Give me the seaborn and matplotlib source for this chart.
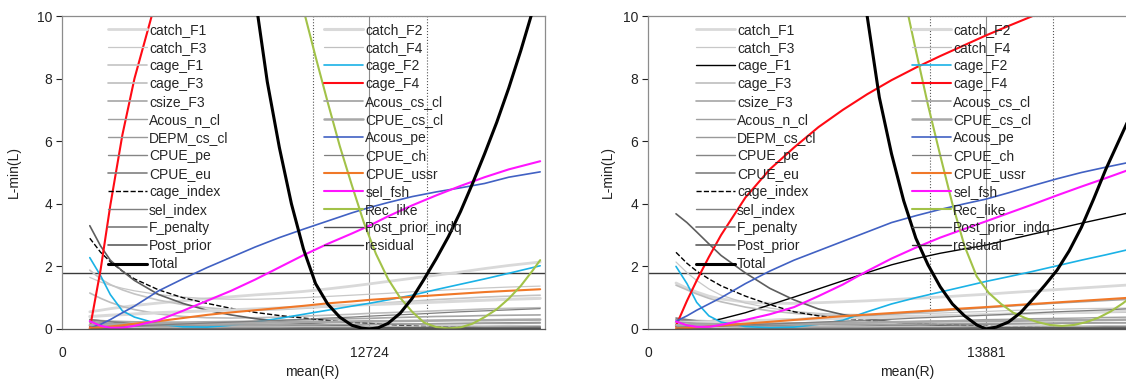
import numpy as np
import pandas as pd
import matplotlib
matplotlib.use("Agg")
import matplotlib.pyplot as plt
import seaborn as sns

# likelihood profiles over mean recruitment, two model runs
mle_L = 12724
mle_R = 13881
ci_L = [10400, 15130]
ci_R = [11580, 16630]
cutoff = 1.8

xL = [1150, 1600, 2000, 2500, 3000, 4000, 5000, 6000, 7000, 8000, 9000,
      10000, 11000, 12000, 12724, 13500, 14500, 15500, 16500, 17500, 18500, 19800]
xR = [1150, 1600, 2000, 2500, 3000, 4000, 5000, 6000, 7000, 8000, 9000,
      10000, 11000, 12000, 13000, 13881, 14800, 15800, 16800, 17800, 18800, 19800]

# finer runs for the steep components
xTot_L = [7500, 8000, 8500, 9000, 9500, 10000, 10500, 11000, 11500, 12000, 12400, 12724, 13100,
          13500, 14000, 14500, 15000, 15500, 16000, 16500, 17000, 17500, 18000, 18500, 19000, 19500, 19800]
xTot_R = [8500, 9000, 9500, 10000, 10500, 11000, 11500, 12000, 12500, 13000, 13500, 13881,
          14300, 14800, 15300, 15800, 16300, 16800, 17300, 17800, 18300, 18800, 19300, 19800]
xRec_L = [9500, 10000, 10500, 11000, 11500, 12000, 12500, 13000, 13500, 14000, 14500,
          15000, 15500, 16000, 16500, 17000, 17500, 18000, 18500, 19000, 19500, 19800]
xRec_R = [10000, 10500, 11000, 11500, 12000, 12500, 13000, 13500, 14000, 14500,
          15000, 15500, 16000, 16500, 17000, 17500, 18000, 18500, 19000, 19500, 19800]

# ---- left run
catch_F1_L = [0.55, 0.6, 0.65, 0.7, 0.75, 0.83, 0.9, 0.97, 1.03, 1.09, 1.14, 1.2, 1.28, 1.37, 1.44, 1.52, 1.62, 1.72, 1.82, 1.93, 2.03, 2.14]
catch_F3_L = [1.65, 1.5, 1.4, 1.3, 1.22, 1.1, 1.02, 0.97, 0.95, 0.95, 0.97, 1.0, 1.04, 1.08, 1.11, 1.14, 1.19, 1.23, 1.27, 1.31, 1.34, 1.37]
cage_F1_L = [1.88, 1.6, 1.42, 1.25, 1.12, 0.92, 0.78, 0.68, 0.62, 0.6, 0.62, 0.66, 0.71, 0.76, 0.8, 0.84, 0.89, 0.94, 0.98, 1.02, 1.05, 1.08]
cage_F3_L = [1.15, 0.98, 0.85, 0.72, 0.62, 0.48, 0.4, 0.36, 0.35, 0.36, 0.38, 0.41, 0.44, 0.47, 0.5, 0.52, 0.55, 0.58, 0.61, 0.64, 0.66, 0.68]
csize_F3_L = [0.3, 0.27, 0.25, 0.24, 0.23, 0.22, 0.22, 0.23, 0.24, 0.25, 0.27, 0.29, 0.31, 0.33, 0.34, 0.36, 0.38, 0.4, 0.41, 0.43, 0.44, 0.45]
acous_n_L = [0.1, 0.09, 0.08, 0.08, 0.08, 0.09, 0.1, 0.11, 0.13, 0.14, 0.16, 0.18, 0.2, 0.22, 0.23, 0.24, 0.26, 0.27, 0.28, 0.29, 0.3, 0.3]
depm_L = [0.25, 0.21, 0.18, 0.15, 0.13, 0.1, 0.08, 0.07, 0.06, 0.05, 0.05, 0.04, 0.04, 0.03, 0.03, 0.03, 0.03, 0.02, 0.02, 0.02, 0.02, 0.02]
cpue_pe_L = [0.02, 0.02, 0.03, 0.03, 0.04, 0.05, 0.06, 0.07, 0.08, 0.09, 0.1, 0.11, 0.12, 0.13, 0.14, 0.15, 0.16, 0.17, 0.18, 0.19, 0.2, 0.21]
cpue_eu_L = [0.3, 0.26, 0.23, 0.2, 0.17, 0.13, 0.1, 0.08, 0.07, 0.06, 0.05, 0.05, 0.05, 0.05, 0.05, 0.05, 0.05, 0.05, 0.06, 0.06, 0.06, 0.07]
cage_index_L = [2.9, 2.45, 2.15, 1.85, 1.6, 1.25, 1.0, 0.82, 0.66, 0.53, 0.43, 0.35, 0.27, 0.21, 0.18, 0.14, 0.1, 0.07, 0.05, 0.04, 0.03, 0.02]
sel_index_L = [0.08, 0.08, 0.07, 0.07, 0.07, 0.06, 0.06, 0.06, 0.05, 0.05, 0.05, 0.05, 0.05, 0.05, 0.05, 0.05, 0.05, 0.05, 0.05, 0.05, 0.05, 0.05]
f_pen_L = [0.0, 0.0, 0.0, 0.0, 0.0, 0.0, 0.0, 0.0, 0.0, 0.0, 0.0, 0.0, 0.0, 0.0, 0.0, 0.0, 0.0, 0.0, 0.0, 0.0, 0.0, 0.0]
post_prior_L = [3.3, 2.65, 2.2, 1.85, 1.55, 1.1, 0.82, 0.6, 0.45, 0.33, 0.25, 0.18, 0.13, 0.09, 0.07, 0.05, 0.04, 0.03, 0.03, 0.02, 0.02, 0.02]
total_L = [13.8, 10.6, 7.9, 5.8, 4.0, 2.55, 1.45, 0.8, 0.38, 0.12, 0.03, 0.0, 0.04,
           0.18, 0.5, 0.98, 1.6, 2.25, 2.95, 3.75, 4.65, 5.6, 6.6, 7.7, 8.9, 10.2, 11.0]
catch_F2_L = [0.4, 0.42, 0.44, 0.46, 0.48, 0.52, 0.55, 0.58, 0.61, 0.64, 0.67, 0.7, 0.73, 0.76, 0.78, 0.8, 0.83, 0.86, 0.89, 0.92, 0.95, 0.98]
catch_F4_L = [0.05, 0.05, 0.05, 0.05, 0.05, 0.06, 0.06, 0.06, 0.07, 0.07, 0.07, 0.08, 0.08, 0.08, 0.09, 0.09, 0.09, 0.1, 0.1, 0.1, 0.11, 0.11]
cage_F2_L = [2.28, 1.7, 1.1, 0.58, 0.38, 0.16, 0.07, 0.06, 0.12, 0.22, 0.34, 0.47, 0.6, 0.73, 0.82, 0.93, 1.08, 1.26, 1.43, 1.6, 1.78, 2.02]
cage_F4_L = [0.0, 1.9, 3.95, 6.2, 8.0, 10.8, 13.2, 15.3, 17.2, 19.0, 20.6, 22.0, 23.4, 24.7, 25.6, 26.5, 27.6, 28.7, 29.7, 30.7, 31.6, 32.8]
acous_cs_L = [0.2, 0.18, 0.17, 0.16, 0.15, 0.14, 0.13, 0.13, 0.13, 0.13, 0.13, 0.14, 0.14, 0.15, 0.15, 0.16, 0.16, 0.17, 0.17, 0.18, 0.18, 0.19]
cpue_cs_L = [0.12, 0.12, 0.13, 0.14, 0.15, 0.16, 0.17, 0.18, 0.19, 0.2, 0.21, 0.22, 0.23, 0.24, 0.25, 0.25, 0.26, 0.27, 0.28, 0.28, 0.29, 0.3]
acous_pe_L = [0.03, 0.15, 0.3, 0.52, 0.73, 1.22, 1.6, 1.96, 2.29, 2.62, 2.92, 3.19, 3.45, 3.71, 3.88, 4.04, 4.23, 4.38, 4.51, 4.65, 4.85, 5.02]
cpue_ch_L = [0.05, 0.06, 0.07, 0.08, 0.1, 0.13, 0.16, 0.19, 0.22, 0.25, 0.28, 0.31, 0.35, 0.38, 0.41, 0.44, 0.47, 0.51, 0.55, 0.58, 0.61, 0.65]
cpue_ussr_L = [0.03, 0.05, 0.08, 0.12, 0.17, 0.25, 0.35, 0.45, 0.53, 0.6, 0.67, 0.74, 0.82, 0.88, 0.93, 0.97, 1.03, 1.08, 1.13, 1.18, 1.22, 1.27]
sel_fsh_L = [0.25, 0.1, 0.04, 0.04, 0.1, 0.28, 0.58, 0.9, 1.22, 1.58, 1.97, 2.36, 2.72, 3.05, 3.3, 3.6, 3.95, 4.27, 4.57, 4.85, 5.1, 5.36]
rec_like_L = [12.0, 10.2, 8.7, 7.25, 5.85, 4.6, 3.4, 2.4, 1.6, 1.0, 0.55,
              0.2, 0.06, 0.02, 0.05, 0.17, 0.38, 0.63, 0.97, 1.38, 1.88, 2.2]
post_indq_L = [0.01, 0.01, 0.01, 0.01, 0.01, 0.01, 0.01, 0.01, 0.01, 0.01, 0.01, 0.01, 0.01, 0.01, 0.01, 0.01, 0.01, 0.01, 0.01, 0.01, 0.01, 0.01]
residual_L = [0.0, 0.0, 0.0, 0.0, 0.0, 0.0, 0.0, 0.0, 0.0, 0.0, 0.0, 0.0, 0.0, 0.0, 0.0, 0.0, 0.0, 0.0, 0.0, 0.0, 0.0, 0.0]

# ---- right run
catch_F1_R = [1.47, 1.3, 1.18, 1.05, 0.96, 0.86, 0.82, 0.82, 0.84, 0.87, 0.9, 0.94, 0.98, 1.02, 1.07, 1.11, 1.16, 1.21, 1.26, 1.31, 1.36, 1.41]
catch_F3_R = [2.14, 1.8, 1.55, 1.28, 1.08, 0.83, 0.67, 0.56, 0.5, 0.47, 0.46, 0.47, 0.49, 0.51, 0.54, 0.56, 0.59, 0.61, 0.63, 0.65, 0.66, 0.67]
cage_F1_R = [0.15, 0.17, 0.2, 0.25, 0.32, 0.52, 0.77, 1.02, 1.28, 1.54, 1.8, 2.05, 2.25, 2.42, 2.56, 2.68, 2.85, 3.03, 3.2, 3.38, 3.55, 3.72]
cage_F3_R = [1.4, 1.25, 1.12, 0.98, 0.87, 0.7, 0.58, 0.5, 0.45, 0.42, 0.41, 0.41, 0.42, 0.43, 0.45, 0.46, 0.48, 0.5, 0.51, 0.52, 0.53, 0.54]
csize_F3_R = [0.3, 0.28, 0.27, 0.26, 0.26, 0.27, 0.29, 0.32, 0.35, 0.39, 0.43, 0.48, 0.53, 0.58, 0.63, 0.68, 0.73, 0.78, 0.83, 0.87, 0.91, 0.95]
acous_n_R = [0.12, 0.11, 0.1, 0.1, 0.1, 0.11, 0.12, 0.14, 0.16, 0.18, 0.2, 0.22, 0.24, 0.26, 0.28, 0.3, 0.31, 0.33, 0.34, 0.35, 0.37, 0.38]
depm_R = [0.3, 0.26, 0.22, 0.19, 0.16, 0.12, 0.09, 0.07, 0.06, 0.05, 0.04, 0.04, 0.03, 0.03, 0.03, 0.03, 0.02, 0.02, 0.02, 0.02, 0.02, 0.02]
cpue_pe_R = [0.02, 0.02, 0.03, 0.03, 0.04, 0.05, 0.06, 0.07, 0.08, 0.09, 0.1, 0.11, 0.12, 0.13, 0.14, 0.15, 0.16, 0.17, 0.18, 0.19, 0.2, 0.2]
cpue_eu_R = [0.35, 0.3, 0.26, 0.22, 0.19, 0.14, 0.11, 0.09, 0.07, 0.06, 0.05, 0.05, 0.05, 0.05, 0.05, 0.05, 0.05, 0.06, 0.06, 0.06, 0.07, 0.07]
cage_index_R = [2.45, 2.1, 1.85, 1.6, 1.38, 1.05, 0.78, 0.55, 0.42, 0.33, 0.27, 0.22, 0.18, 0.14, 0.11, 0.09, 0.07, 0.05, 0.04, 0.03, 0.03, 0.02]
sel_index_R = [0.08, 0.08, 0.07, 0.07, 0.07, 0.06, 0.06, 0.06, 0.05, 0.05, 0.05, 0.05, 0.05, 0.05, 0.05, 0.05, 0.05, 0.05, 0.05, 0.05, 0.05, 0.05]
f_pen_R = [0.0, 0.0, 0.0, 0.0, 0.0, 0.0, 0.0, 0.0, 0.0, 0.0, 0.0, 0.0, 0.0, 0.0, 0.0, 0.0, 0.0, 0.0, 0.0, 0.0, 0.0, 0.0]
post_prior_R = [3.68, 3.4, 3.1, 2.72, 2.35, 1.79, 1.3, 0.93, 0.64, 0.46, 0.33, 0.23, 0.16, 0.12, 0.09, 0.07, 0.05, 0.04, 0.04, 0.03, 0.03, 0.03]
total_R = [12.8, 10.0, 7.4, 5.6, 4.1, 2.9, 2.05, 1.35, 0.8, 0.42, 0.13, 0.0,
           0.06, 0.22, 0.52, 0.95, 1.4, 1.88, 2.5, 3.25, 4.15, 5.1, 5.95, 6.8]
catch_F2_R = [0.2, 0.21, 0.22, 0.23, 0.24, 0.26, 0.28, 0.3, 0.32, 0.34, 0.36, 0.38, 0.4, 0.42, 0.44, 0.46, 0.48, 0.5, 0.52, 0.54, 0.56, 0.58]
catch_F4_R = [0.05, 0.05, 0.05, 0.05, 0.05, 0.06, 0.06, 0.06, 0.07, 0.07, 0.07, 0.08, 0.08, 0.08, 0.09, 0.09, 0.09, 0.1, 0.1, 0.1, 0.11, 0.11]
cage_F2_R = [2.0, 1.45, 0.85, 0.42, 0.22, 0.08, 0.04, 0.06, 0.15, 0.28, 0.55, 0.8, 1.0, 1.18, 1.36, 1.52, 1.67, 1.84, 2.02, 2.2, 2.37, 2.55]
cage_F4_R = [0.1, 0.9, 1.55, 2.3, 3.0, 4.2, 5.1, 5.8, 6.45, 7.0, 7.5, 7.95, 8.35, 8.72, 9.07, 9.38, 9.68, 10.0, 10.3, 10.6, 10.9, 11.2]
acous_cs_R = [0.22, 0.2, 0.18, 0.17, 0.16, 0.15, 0.14, 0.14, 0.14, 0.14, 0.15, 0.15, 0.16, 0.16, 0.17, 0.17, 0.18, 0.18, 0.19, 0.19, 0.2, 0.2]
cpue_cs_R = [0.12, 0.12, 0.13, 0.14, 0.15, 0.16, 0.17, 0.18, 0.19, 0.2, 0.21, 0.22, 0.23, 0.24, 0.25, 0.25, 0.26, 0.27, 0.28, 0.28, 0.29, 0.3]
acous_pe_R = [0.25, 0.42, 0.6, 0.8, 1.0, 1.45, 1.85, 2.2, 2.5, 2.8, 3.1, 3.4, 3.62, 3.82, 4.0, 4.15, 4.35, 4.58, 4.8, 5.0, 5.17, 5.33]
cpue_ch_R = [0.05, 0.06, 0.07, 0.08, 0.1, 0.13, 0.16, 0.19, 0.22, 0.25, 0.28, 0.31, 0.35, 0.38, 0.41, 0.44, 0.47, 0.51, 0.55, 0.58, 0.61, 0.65]
cpue_ussr_R = [0.02, 0.03, 0.05, 0.08, 0.11, 0.17, 0.23, 0.29, 0.35, 0.41, 0.46, 0.51, 0.56, 0.61, 0.66, 0.7, 0.75, 0.8, 0.85, 0.9, 0.95, 1.0]
sel_fsh_R = [0.24, 0.12, 0.07, 0.07, 0.13, 0.29, 0.47, 0.7, 1.05, 1.42, 1.85, 2.25, 2.6, 2.92, 3.2, 3.44, 3.7, 3.98, 4.27, 4.55, 4.82, 5.1]
rec_like_R = [12.6, 10.7, 8.9, 7.15, 5.55, 4.0, 2.65, 1.68, 1.15, 0.8,
              0.52, 0.35, 0.22, 0.13, 0.1, 0.13, 0.22, 0.36, 0.56, 0.82, 1.0]
post_indq_R = [0.01, 0.01, 0.01, 0.01, 0.01, 0.01, 0.01, 0.01, 0.01, 0.01, 0.01, 0.01, 0.01, 0.01, 0.01, 0.01, 0.01, 0.01, 0.01, 0.01, 0.01, 0.01]
residual_R = [0.0, 0.0, 0.0, 0.0, 0.0, 0.0, 0.0, 0.0, 0.0, 0.0, 0.0, 0.0, 0.0, 0.0, 0.0, 0.0, 0.0, 0.0, 0.0, 0.0, 0.0, 0.0]

names = ["catch_F1", "catch_F3", "cage_F1", "cage_F3", "csize_F3", "Acous_n_cl",
         "DEPM_cs_cl", "CPUE_pe", "CPUE_eu", "cage_index", "sel_index", "F_penalty",
         "Post_prior", "Total", "catch_F2", "catch_F4", "cage_F2", "cage_F4",
         "Acous_cs_cl", "CPUE_cs_cl", "Acous_pe", "CPUE_ch", "CPUE_ussr", "sel_fsh",
         "Rec_like", "Post_prior_indq", "residual"]

left_vals = [catch_F1_L, catch_F3_L, cage_F1_L, cage_F3_L, csize_F3_L, acous_n_L,
             depm_L, cpue_pe_L, cpue_eu_L, cage_index_L, sel_index_L, f_pen_L,
             post_prior_L, total_L, catch_F2_L, catch_F4_L, cage_F2_L, cage_F4_L,
             acous_cs_L, cpue_cs_L, acous_pe_L, cpue_ch_L, cpue_ussr_L, sel_fsh_L,
             rec_like_L, post_indq_L, residual_L]
right_vals = [catch_F1_R, catch_F3_R, cage_F1_R, cage_F3_R, csize_F3_R, acous_n_R,
              depm_R, cpue_pe_R, cpue_eu_R, cage_index_R, sel_index_R, f_pen_R,
              post_prior_R, total_R, catch_F2_R, catch_F4_R, cage_F2_R, cage_F4_R,
              acous_cs_R, cpue_cs_R, acous_pe_R, cpue_ch_R, cpue_ussr_R, sel_fsh_R,
              rec_like_R, post_indq_R, residual_R]

# colour, width, dash per series
style = {
    "catch_F1": ("#D9D9D9", 2.0, "-"), "catch_F3": ("#C8C8C8", 0.9, "-"),
    "cage_F1": ("#C4C4C4", 1.2, "-"), "cage_F3": ("#BDBDBD", 1.2, "-"),
    "csize_F3": ("#A6A6A6", 1.2, "-"), "Acous_n_cl": ("#A0A0A0", 1.0, "-"),
    "DEPM_cs_cl": ("#999999", 1.0, "-"), "CPUE_pe": ("#858585", 1.0, "-"),
    "CPUE_eu": ("#808080", 1.2, "-"), "cage_index": ("#000000", 1.0, "--"),
    "sel_index": ("#7F7F7F", 1.0, "-"), "F_penalty": ("#7A7A7A", 1.2, "-"),
    "Post_prior": ("#5E5E5E", 1.2, "-"), "Total": ("#000000", 2.2, "-"),
    "catch_F2": ("#D9D9D9", 2.2, "-"), "catch_F4": ("#C0C0C0", 0.9, "-"),
    "cage_F2": ("#1AB2E6", 1.2, "-"), "cage_F4": ("#FF0A14", 1.5, "-"),
    "Acous_cs_cl": ("#A0A0A0", 1.2, "-"), "CPUE_cs_cl": ("#A8A8A8", 1.8, "-"),
    "Acous_pe": ("#4161C3", 1.2, "-"), "CPUE_ch": ("#7F7F7F", 0.9, "-"),
    "CPUE_ussr": ("#F07828", 1.5, "-"), "sel_fsh": ("#FF14FF", 1.5, "-"),
    "Rec_like": ("#A2C248", 1.5, "-"), "Post_prior_indq": ("#505050", 1.0, "-"),
    "residual": ("#303030", 1.0, "-"),
}

sns.set_style("white")
plt.rcParams["font.family"] = ["Liberation Sans", "DejaVu Sans"]
plt.rcParams["font.size"] = 10

fig = plt.figure(figsize=(11.26, 3.86), dpi=100)
W, H = 1126, 386
axL = fig.add_axes([62 / W, 1 - 329 / H, 483 / W, 313 / H])
axR = fig.add_axes([648 / W, 1 - 329 / H, 487 / W, 313 / H])

panels = [
    (axL, xL, xTot_L, xRec_L, left_vals, mle_L, ci_L, 108, 0.518, -0.085),
    (axR, xR, xTot_R, xRec_R, right_vals, mle_R, ci_R, 696, 0.532, -0.068),
]

for ax, xs, xtot, xrec, vals, mle, ci, leg_x, xlab_x, ylab_x in panels:
    ax.axhline(cutoff, color="#3A3A3A", lw=1.0, zorder=1)
    ax.axvline(mle, color="#8C8C8C", lw=0.8, zorder=1)
    ax.vlines(ci, 0, 10, colors="#555555", linestyles=":", lw=0.8, zorder=1)
    ax.hlines(10, ci[0], ci[1], colors="#555555", linestyles=":", lw=0.8, zorder=1)

    for name, v in zip(names, vals):
        col, lw, ls = style[name]
        if name == "cage_F1" and ax is axR:
            col, lw = "#000000", 1.0
        x = xtot if name == "Total" else (xrec if name == "Rec_like" else xs)
        df = pd.DataFrame({"x": x, "y": v})
        sns.lineplot(data=df, x="x", y="y", ax=ax, color=col, lw=lw,
                     linestyle=ls, label=name, zorder=3 if name == "Total" else 2)

    ax.set_xlim(0, 20000)
    ax.set_ylim(0, 10)
    ax.set_xticks([0, mle])
    ax.set_xticklabels(["0", str(mle)])
    ax.set_yticks([0, 2, 4, 6, 8, 10])
    ax.tick_params(axis="x", length=0, pad=12, labelsize=10, colors="#222222")
    ax.tick_params(axis="y", length=4, width=0.8, pad=3, labelsize=10,
                   colors="#222222", left=True, direction="out")
    for s in ax.spines.values():
        s.set_color("#8C8C8C")
        s.set_linewidth(0.9)
    ax.spines["bottom"].set_color("#555555")

    ax.set_xlabel("mean(R)", fontsize=10, color="#222222")
    ax.set_ylabel("L-min(L)", fontsize=10, color="#222222")
    ax.xaxis.set_label_coords(xlab_x, -0.115)
    ax.yaxis.set_label_coords(ylab_x, 0.5)

    ax.legend(ncol=2, frameon=False, loc="upper left",
              bbox_to_anchor=(leg_x / W, 1 - 23 / H), bbox_transform=fig.transFigure,
              borderpad=0, borderaxespad=0, handlelength=2.8, handletextpad=0.15,
              labelspacing=0.29, columnspacing=6.9, fontsize=10)

fig.savefig("out.png", dpi=100)
